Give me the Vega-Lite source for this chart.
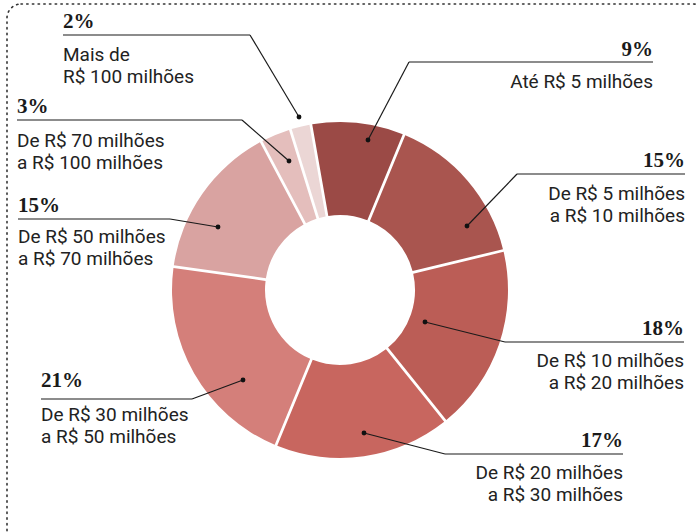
{
  "$schema": "https://vega.github.io/schema/vega-lite/v6.json",
  "width": 700,
  "height": 540,
  "autosize": "none",
  "padding": {"left": 7, "top": 4, "right": 0, "bottom": 0},
  "background": "white",
  "config": {
    "view": {"stroke": "#333333", "strokeWidth": 1.6, "strokeDash": [1.4, 4.3], "strokeCap": "round", "cornerRadius": 14, "fill": "white"}
  },
  "datasets": {
    "slices": [
      {"faixa": "0-5", "pct": 9, "ord": 1},
      {"faixa": "5-10", "pct": 15, "ord": 2},
      {"faixa": "10-20", "pct": 18, "ord": 3},
      {"faixa": "20-30", "pct": 17, "ord": 4},
      {"faixa": "30-50", "pct": 21, "ord": 5},
      {"faixa": "50-70", "pct": 15, "ord": 6},
      {"faixa": "70-100", "pct": 3, "ord": 7},
      {"faixa": "100+", "pct": 2, "ord": 8}
    ],
    "labels": [
      {"faixa": "0-5", "pctLabel": "9%", "desc": "Até R$ 5 milhões", "side": "right", "dotX": 28, "dotY": -150, "elbowX": 69, "elbowY": -228, "endX": 313, "pctY": -234, "descY": -202},
      {"faixa": "5-10", "pctLabel": "15%", "desc": "De R$ 5 milhões\na R$ 10 milhões", "side": "right", "dotX": 127, "dotY": -64, "elbowX": 177, "elbowY": -116, "endX": 345, "pctY": -123, "descY": -90},
      {"faixa": "10-20", "pctLabel": "18%", "desc": "De R$ 10 milhões\na R$ 20 milhões", "side": "right", "dotX": 85, "dotY": 32, "elbowX": 165, "elbowY": 52, "endX": 344, "pctY": 45, "descY": 77},
      {"faixa": "20-30", "pctLabel": "17%", "desc": "De R$ 20 milhões\na R$ 30 milhões", "side": "right", "dotX": 24, "dotY": 143, "elbowX": 105, "elbowY": 164, "endX": 283, "pctY": 157, "descY": 189},
      {"faixa": "30-50", "pctLabel": "21%", "desc": "De R$ 30 milhões\na R$ 50 milhões", "side": "left", "dotX": -97, "dotY": 90, "elbowX": -148, "elbowY": 109, "endX": -299, "pctY": 97, "descY": 131},
      {"faixa": "50-70", "pctLabel": "15%", "desc": "De R$ 50 milhões\na R$ 70 milhões", "side": "left", "dotX": -122, "dotY": -63, "elbowX": -170, "elbowY": -71, "endX": -322, "pctY": -78, "descY": -47},
      {"faixa": "70-100", "pctLabel": "3%", "desc": "De R$ 70 milhões\na R$ 100 milhões", "side": "left", "dotX": -51, "dotY": -129, "elbowX": -98, "elbowY": -170, "endX": -323, "pctY": -177, "descY": -143},
      {"faixa": "100+", "pctLabel": "2%", "desc": "Mais de\nR$ 100 milhões", "side": "left", "dotX": -41, "dotY": -173, "elbowX": -90, "elbowY": -255, "endX": -277, "pctY": -262, "descY": -229}
    ]
  },
  "layer": [
    {
      "data": {"name": "slices"},
      "mark": {"type": "arc", "radius": 168, "radius2": 75, "padAngle": 0.015},
      "encoding": {
        "x": {"datum": 0, "type": "quantitative", "scale": {"domain": [-333, 367], "zero": false, "nice": false}, "axis": null},
        "y": {"datum": 0, "type": "quantitative", "scale": {"domain": [-286, 254], "reverse": true, "zero": false, "nice": false}, "axis": null},
        "theta": {"field": "pct", "type": "quantitative", "stack": true, "scale": {"range": [-0.1745, 6.1087]}},
        "order": {"field": "ord", "type": "quantitative"},
        "color": {
          "field": "faixa", "type": "nominal", "legend": null,
          "scale": {
            "domain": ["0-5", "5-10", "10-20", "20-30", "30-50", "50-70", "70-100", "100+"],
            "range": ["#9b4a46", "#a9554f", "#bb5d56", "#c8665f", "#d47f7a", "#d9a3a1", "#e4bebc", "#ebd6d5"]
          }
        }
      }
    },
    {
      "data": {"name": "labels"},
      "mark": {"type": "rule", "color": "#1a1a1a", "strokeWidth": 1.2},
      "encoding": {
        "x": {"field": "dotX", "type": "quantitative"},
        "y": {"field": "dotY", "type": "quantitative"},
        "x2": {"field": "elbowX"},
        "y2": {"field": "elbowY"}
      }
    },
    {
      "data": {"name": "labels"},
      "mark": {"type": "rule", "color": "#1a1a1a", "strokeWidth": 1.2},
      "encoding": {
        "x": {"field": "elbowX", "type": "quantitative"},
        "y": {"field": "elbowY", "type": "quantitative"},
        "x2": {"field": "endX"},
        "y2": {"field": "elbowY"}
      }
    },
    {
      "data": {"name": "labels"},
      "mark": {"type": "point", "filled": true, "color": "#111111", "size": 24, "opacity": 1},
      "encoding": {
        "x": {"field": "dotX", "type": "quantitative"},
        "y": {"field": "dotY", "type": "quantitative"}
      }
    },
    {
      "data": {"name": "labels"},
      "transform": [{"filter": "datum.side === 'left'"}],
      "mark": {"type": "text", "align": "left", "baseline": "alphabetic", "font": "Liberation Serif", "fontWeight": "bold", "fontSize": 21, "color": "#1a1a1a"},
      "encoding": {
        "x": {"field": "endX", "type": "quantitative"},
        "y": {"field": "pctY", "type": "quantitative"},
        "text": {"field": "pctLabel"}
      }
    },
    {
      "data": {"name": "labels"},
      "transform": [{"filter": "datum.side === 'right'"}],
      "mark": {"type": "text", "align": "right", "baseline": "alphabetic", "font": "Liberation Serif", "fontWeight": "bold", "fontSize": 21, "color": "#1a1a1a"},
      "encoding": {
        "x": {"field": "endX", "type": "quantitative"},
        "y": {"field": "pctY", "type": "quantitative"},
        "text": {"field": "pctLabel"}
      }
    },
    {
      "data": {"name": "labels"},
      "transform": [{"filter": "datum.side === 'left'"}],
      "mark": {"type": "text", "align": "left", "baseline": "alphabetic", "font": "Roboto", "fontSize": 19, "lineBreak": "\n", "lineHeight": 22, "color": "#222222"},
      "encoding": {
        "x": {"field": "endX", "type": "quantitative"},
        "y": {"field": "descY", "type": "quantitative"},
        "text": {"field": "desc"}
      }
    },
    {
      "data": {"name": "labels"},
      "transform": [{"filter": "datum.side === 'right'"}],
      "mark": {"type": "text", "align": "right", "baseline": "alphabetic", "font": "Roboto", "fontSize": 19, "lineBreak": "\n", "lineHeight": 22, "color": "#222222"},
      "encoding": {
        "x": {"field": "endX", "type": "quantitative"},
        "y": {"field": "descY", "type": "quantitative"},
        "text": {"field": "desc"}
      }
    }
  ]
}
